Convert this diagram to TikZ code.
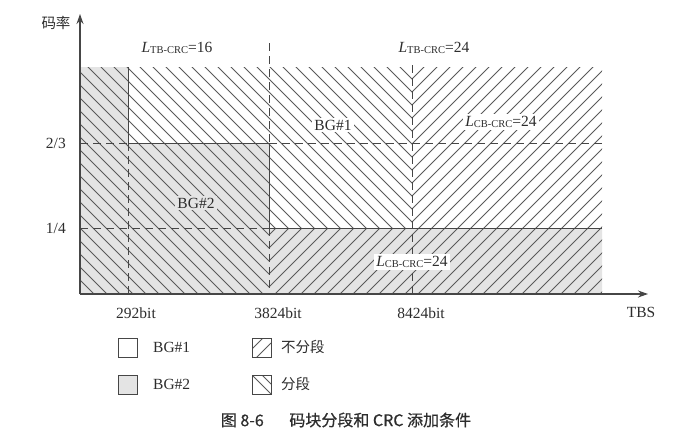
\documentclass[tikz,border=0pt]{standalone}
\usepackage{fontspec}
\setmainfont{Liberation Serif}
\newfontfamily\cjk{Noto Sans CJK SC}
\newfontfamily\cjkcap[FakeBold=0.5]{Noto Sans CJK SC}
\usetikzlibrary{arrows.meta}
\definecolor{bggray}{RGB}{228,228,228}
\definecolor{hatchc}{RGB}{90,90,90}
\definecolor{linec}{RGB}{70,70,70}
\definecolor{textc}{RGB}{45,45,45}
\tikzset{
  hatchline/.style={draw=hatchc, line width=0.8pt},
  edgeline/.style={draw=linec, line width=1pt},
  dashline/.style={draw=linec, line width=0.9pt, dash pattern=on 8pt off 5pt},
  axisline/.style={draw=linec, line width=1.1pt, -{Stealth[length=10pt,width=7pt]}},
  lbl/.style={text=textc, font=\fontsize{15.5}{16}\selectfont, inner sep=1pt},
  cjklbl/.style={text=textc, font=\cjk\fontsize{14.5}{15}\selectfont, inner sep=1pt},
  lbox/.style={draw=linec, line width=0.9pt},
}
\newcommand{\Lsub}[2]{\textit{L}\raisebox{-1pt}{\fontsize{10.5}{11}\selectfont #1}=#2}
\begin{document}
\begin{tikzpicture}[x=1pt,y=-1pt]
\useasboundingbox (0,0) rectangle (696,437);
\fill[white] (0,0) rectangle (696,437);
% key points
\coordinate (O) at (80,294);
\coordinate (Ytop) at (80,14);
\coordinate (Xend) at (648,294);
% gray region (BG#2)
\fill[bggray] (80,67) -- (128,67) -- (128,143) -- (269,143) -- (269,228) -- (602,228) -- (602,294) -- (80,294) -- cycle;
% "\" hatching (segmentation)
\begin{scope}
\clip (80,67) -- (412,67) -- (412,228) -- (269,228) -- (269,294) -- (80,294) -- cycle;
\foreach \k in {-29,...,18} \draw[hatchline] (0,{5+13*\k}) -- (700,{705+13*\k});
\end{scope}
% "/" hatching (no segmentation)
\begin{scope}
\clip (412,67) -- (602,67) -- (602,294) -- (269,294) -- (269,228) -- (412,228) -- cycle;
\foreach \k in {-40,...,6} \draw[hatchline] (0,{829+13*\k}) -- (700,{129+13*\k});
\end{scope}
% boundary points
\coordinate (a1) at (128,67);  \coordinate (a2) at (128,143); \coordinate (a3) at (128,294);
\coordinate (b0) at (269,43);  \coordinate (b1) at (269,143); \coordinate (b2) at (269,228); \coordinate (b3) at (269,294);
\coordinate (c0) at (412,65);  \coordinate (c3) at (412,294);
\coordinate (l1) at (80,143);  \coordinate (r1) at (602,143);
\coordinate (l2) at (80,228);  \coordinate (r2) at (602,228);
% solid boundaries
\draw[edgeline] (a1) -- (a2) -- (b1) -- (b2) -- (r2);
% dashed lines
\draw[dashline] (a2) -- (a3);
\draw[dashline] (b0) -- (b1);
\draw[dashline] (b2) -- (b3);
\draw[dashline] (c0) -- (c3);
\draw[dashline] (l1) -- (a2);
\draw[dashline] (b1) -- (r1);
\draw[dashline] (l2) -- (b2);
% axes
\draw[axisline] (O) -- (Ytop);
\draw[axisline] (O) -- (Xend);
% labels
\node[cjklbl] (ylab) at (56,23) {码率};
\node[lbl, anchor=east] (r23) at (67,143) {2/3};
\node[lbl, anchor=east] (r14) at (67,228) {1/4};
\node[lbl] (t1) at (136,313) {292bit};
\node[lbl] (t2) at (278,313) {3824bit};
\node[lbl] (t3) at (421,313) {8424bit};
\node[lbl] (tbs) at (641,312) {TBS};
\node[lbl] (ltb16) at (177,48) {\Lsub{TB-CRC}{16}};
\node[lbl] (ltb24) at (434,48) {\Lsub{TB-CRC}{24}};
\node[lbl, fill=white, inner sep=2pt] (bg1) at (333,125) {BG\#1};
\node[lbl, fill=white, inner sep=2pt] (lcb1) at (501,122) {\Lsub{CB-CRC}{24}};
\node[lbl, fill=bggray, inner sep=2pt] (bg2) at (196,203) {BG\#2};
\node[lbl, fill=white, inner sep=2pt] (lcb2) at (412,262) {\Lsub{CB-CRC}{24}};
% legend
\draw[lbox] (118,338) rectangle (137,357);
\node[lbl, anchor=west] (lg1) at (152,347) {BG\#1};
\begin{scope}
\clip (252,338) rectangle (271,357);
\draw[hatchline] (252,{601-252}) -- (271,{601-271});
\draw[hatchline] (252,{614-252}) -- (271,{614-271});
\end{scope}
\draw[lbox] (252,338) rectangle (271,357);
\node[cjklbl, anchor=west] (lg2) at (280,347) {不分段};
\draw[lbox, fill=bggray] (118,375) rectangle (137,394);
\node[lbl, anchor=west] (lg3) at (152,384) {BG\#2};
\begin{scope}
\clip (252,375) rectangle (271,394);
\draw[hatchline] (252,{252+113}) -- (271,{271+113});
\draw[hatchline] (252,{252+123}) -- (271,{271+123});
\end{scope}
\draw[lbox] (252,375) rectangle (271,394);
\node[cjklbl, anchor=west] (lg4) at (280,384) {分段};
% caption
\node[text=textc, font=\cjkcap\fontsize{16}{17}\selectfont] (cap) at (346,420) {图 8-6\hspace{1.6em}码块分段和 CRC 添加条件};
\end{tikzpicture}
\end{document}
